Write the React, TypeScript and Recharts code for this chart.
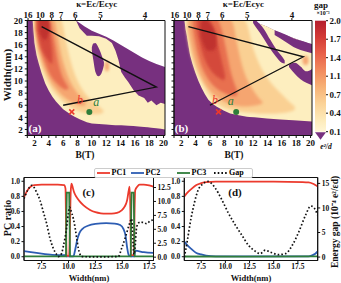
import React from 'react';
import { ComposedChart, BarChart, Bar, Area, Line, Scatter, XAxis, YAxis, ReferenceArea } from 'recharts';

const SERIF = '"Liberation Serif", "Times New Roman", serif';
const INK = '#111';
const PURPLE = '#77307f';
const PALE = '#fdeebf';
const TONES = ['#fad093', '#f5a56f', '#e8704f', '#d4483a', '#c0302e'];
const RED = '#ec3a2d';
const BLUE = '#2d5db3';
const GREEN = '#2f7d3a';

// ---------- gap maps: B (T) across, width (nm) up ----------
const bTicks = [1, 2, 3, 4, 5, 6, 7, 8, 9, 10, 11, 12, 13, 14, 15, 16, 17, 18, 19, 20];
const wTicks = [1, 2, 3, 4, 5, 6, 7, 8, 9, 10, 11, 12, 13, 14, 15, 16, 17, 18, 19, 20];
const kappaLabels = ['16', '10', '8', '7', '6', '5', '4'];
const kappaAtB = [1.1, 2.8, 4.4, 5.7, 7.7, 11.2, 17.4];

const gapTicks = [0.1, 0.417, 0.733, 1.05, 1.367, 1.683, 2.0];
const gapLabels = ['0.1', '0.4', '0.7', '1.1', '1.4', '1.7', '2.0'];

// panel (a): [B, W] top of computed region (white above)
const aEdge = [[1, 20.5], [7.6, 20.5], [7.9, 19.9], [9, 19.0], [10, 18.3], [11, 17.8], [12, 17.3], [13, 16.7], [14, 16.0], [15, 15.3], [16, 14.6], [17, 13.9], [18, 13.3], [19, 12.8], [20.2, 12.3]];
// [B, W low, W high]
const aBand = [
  [1.75, 20, 20.5], [1.85, 18.5, 20.5], [2.0, 16.3, 20.5], [2.3, 14.2, 20.5], [2.6, 12.9, 20.5],
  [3.0, 11.3, 20.5], [3.5, 9.6, 20.5], [4.0, 8.4, 20.5], [4.5, 7.4, 20.5], [5.0, 6.6, 20.5],
  [6.0, 5.35, 20.5], [7.0, 4.5, 20.5], [7.6, 4.1, 20.5], [8.3, 3.7, 18.7], [9.3, 3.2, 17.5],
  [10.0, 3.0, 17.5], [11.0, 2.9, 17.4], [12.0, 2.8, 17.0], [12.8, 2.75, 16.3], [13.3, 2.7, 15.0],
  [13.7, 2.7, 13.5], [14.1, 2.7, 11.5], [14.6, 2.65, 10.6], [15.1, 2.6, 9.8], [15.8, 2.55, 8.5],
  [16.5, 2.5, 7.6], [17.3, 2.4, 7.2], [17.8, 2.35, 6.4], [18.3, 2.3, 6.8], [19.0, 2.2, 6.0],
  [19.6, 2.1, 6.4], [20.2, 2.0, 6.2],
];
const aHole = [[10.0, 15.0, 15.6], [10.2, 13.5, 16.2], [10.5, 11.5, 16.3], [10.9, 10.8, 15.6], [11.2, 11.0, 14.8], [11.5, 11.8, 13.8], [11.7, 12.6, 13.1]];
const aTone1 = [[2.0, 18.5, 20.5], [2.3, 15.6, 20.5], [2.7, 13.5, 20.5], [3.2, 11.6, 20.5], [3.7, 10.2, 20.5], [4.2, 9.1, 20.5], [4.8, 8.1, 20.5], [5.4, 7.3, 20.5], [5.9, 6.7, 19.5], [6.4, 6.2, 16.5], [7.0, 5.7, 13.5], [7.6, 5.3, 11.2], [8.2, 5.0, 9.6], [8.8, 4.8, 8.4], [9.4, 4.6, 7.5], [10.0, 4.5, 6.8], [10.6, 4.5, 6.2], [11.2, 4.6, 5.6], [11.6, 4.8, 5.2]];
const aTone2 = [[2.1, 18.5, 20.5], [2.4, 16.0, 20.5], [2.8, 14.2, 20.5], [3.3, 12.4, 20.5], [3.8, 11.0, 20.5], [4.3, 9.9, 20.5], [4.8, 9.0, 20.0], [5.3, 8.3, 17.0], [5.8, 7.7, 14.0], [6.3, 7.2, 12.0], [6.8, 6.8, 10.4], [7.4, 6.4, 9.0], [8.0, 6.1, 8.0], [8.6, 5.9, 7.2], [9.1, 5.9, 6.6]];
const aTone3 = [[2.2, 18.8, 20.5], [2.5, 16.8, 20.5], [2.9, 15.0, 20.5], [3.3, 13.5, 20.5], [3.8, 12.0, 20.5], [4.3, 10.8, 19.5], [4.8, 10.0, 16.5], [5.3, 9.4, 13.2], [5.8, 8.9, 11.0], [6.3, 8.6, 9.8], [6.7, 8.6, 9.0]];
const aTone4 = [[2.4, 18.5, 20.5], [2.8, 16.0, 20.5], [3.3, 14.5, 20.5], [3.8, 13.6, 20.0], [4.2, 13.0, 17.5], [4.5, 12.8, 14.5]];
const aTone5 = [[2.6, 18.5, 20.5], [3.0, 17.2, 20.5], [3.5, 16.8, 20.5], [3.9, 17.5, 20.2], [4.1, 18.5, 19.6]];
const aSpot = [[11.8, 12.0, 12.8], [12.1, 11.6, 13.3], [12.4, 12.0, 12.9]];
const aPath = [[3, 19], [19, 9], [6, 6]];

// panel (b)
const bEdge = [[1, 20.5], [11.5, 20.5], [12.2, 19.8], [13.9, 19.0], [15.8, 17.9], [17.6, 17.1], [20.2, 16.0]];
const bBand = [
  [2.45, 20, 20.5], [2.6, 18.6, 20.5], [2.77, 17.6, 20.5], [3.0, 15.9, 20.5], [3.23, 14.3, 20.5],
  [3.55, 12.9, 20.5], [3.93, 11.5, 20.5], [4.4, 10.0, 20.5], [4.86, 8.8, 20.5], [5.3, 7.8, 20.5],
  [5.78, 6.9, 20.5], [6.4, 6.2, 20.5], [6.96, 5.75, 20.5], [7.9, 5.15, 20.5], [8.81, 4.65, 20.5],
  [10.0, 4.35, 20.5], [11.14, 4.1, 20.5], [11.5, 4.05, 20.5], [12.2, 4.0, 19.8], [13.93, 3.8, 19.0],
  [15.8, 3.65, 17.9], [17.6, 3.5, 17.1], [20.2, 3.3, 16.0],
];
const bHole1 = [[12.0, 19.6, 20.5], [12.5, 18.7, 19.9], [13.5, 17.0, 18.6], [14.4, 15.3, 16.8], [15.2, 14.0, 15.3], [16.0, 13.0, 14.1], [16.4, 12.9, 13.4]];
const bHole2 = [[15.0, 17.6, 18.4], [16.5, 16.5, 17.7], [18.0, 15.4, 16.9], [19.2, 14.9, 16.5], [20.2, 14.6, 16.1]];
const bHole3 = [[17.0, 12.3, 12.7], [17.8, 11.2, 13.0], [18.6, 10.3, 12.4], [19.4, 9.7, 11.6], [20.2, 9.3, 12.0]];
const bTone1 = [[2.7, 18.5, 20.5], [3.0, 16.3, 20.5], [3.5, 13.8, 20.5], [4.0, 12.0, 20.5], [5.0, 9.5, 20.5], [6.0, 7.5, 20.5], [7.0, 6.3, 20.5], [8.0, 5.6, 20.5], [9.0, 5.2, 20.5], [10.0, 5.0, 20.5], [11.0, 4.8, 19.8], [12.0, 4.7, 15.5], [13.0, 4.6, 12.5], [14.0, 4.6, 10.5], [15.0, 4.6, 9.0], [16.0, 4.7, 7.8], [17.0, 4.9, 6.6], [17.8, 5.2, 5.8]];
const bTone2 = [[3.0, 18.5, 20.5], [3.4, 16.0, 20.5], [3.9, 13.5, 20.5], [4.5, 11.5, 20.5], [5.5, 9.2, 20.5], [6.5, 7.8, 20.5], [7.5, 6.9, 20.5], [8.5, 6.3, 20.5], [9.2, 6.0, 19.5], [9.8, 5.9, 16.0], [10.5, 5.8, 12.5], [11.2, 5.8, 10.2], [12.0, 5.9, 8.5], [12.8, 6.1, 7.2], [13.3, 6.3, 6.6]];
const bTone3 = [[3.6, 18.8, 20.5], [4.0, 16.0, 20.5], [4.6, 13.2, 20.5], [5.3, 11.2, 20.5], [6.0, 9.9, 20.5], [6.8, 8.9, 20.5], [7.5, 8.3, 19.0], [8.2, 7.9, 15.5], [8.8, 7.6, 12.0], [9.4, 7.5, 9.6], [9.8, 7.6, 8.4]];
const bTone4 = [[4.2, 18.5, 20.5], [4.7, 15.8, 20.5], [5.3, 13.5, 20.5], [6.0, 12.0, 20.0], [6.7, 11.0, 18.0], [7.3, 10.5, 15.0], [7.8, 10.2, 12.5], [8.1, 10.3, 11.0]];
const bTone5 = [[4.7, 17.5, 19.5], [5.2, 15.8, 20.2], [5.8, 15.0, 19.8], [6.4, 15.0, 18.8], [6.9, 15.8, 17.5]];
const bSpot = [[18.9, 13.0, 13.8], [19.3, 12.6, 14.2], [19.7, 13.0, 13.8]];
const bPath = [[3, 19], [19, 14], [6, 6]];

const markCross = [7.2, 4.9];
const markDot = [9.65, 4.9];
const aLetters = { b: [8.35, 6.9], a: [10.6, 6.6] };
const bLetters = { b: [6.7, 6.9], a: [8.9, 6.7] };

// ---------- PC ratio / gap vs width ----------
const seriesNames = ['PC1', 'PC2', 'PC3', 'Gap'];
const cWidthTicks = [7.5, 10, 12.5, 15, 17.5];
const ratioTicks = [0, 0.2, 0.4, 0.6, 0.8, 1.0];
const cGapTicks = [0, 2.5, 5, 7.5, 10, 12.5];
const dGapTicks = [0, 5, 10, 15];

const cPC1 = [[5.86, 0.79], [6.1, 0.86], [6.4, 0.92], [6.8, 0.95], [7.5, 0.955], [9.0, 0.955], [9.6, 0.95], [9.72, 0.9], [9.78, 0.3], [9.82, 0.02], [10.05, 0.01], [10.12, 0.3], [10.2, 0.85], [10.27, 0.97], [10.35, 0.94], [10.5, 0.86], [10.75, 0.79], [11.0, 0.74], [11.4, 0.68], [12.0, 0.62], [12.5, 0.59], [13.0, 0.575], [13.5, 0.57], [14.0, 0.57], [14.5, 0.58], [14.9, 0.61], [15.2, 0.66], [15.45, 0.75], [15.6, 0.88], [15.68, 0.93], [15.75, 0.6], [15.8, 0.02], [16.08, 0.02], [16.14, 0.6], [16.2, 0.88], [16.4, 0.93], [16.6, 0.955], [17.0, 0.955], [17.5, 0.945], [17.9, 0.93]];
const cPC2 = [[5.86, 0.075], [6.5, 0.06], [7.5, 0.04], [8.5, 0.025], [9.5, 0.02], [9.78, 0.02], [9.82, 0.005], [10.45, 0.005], [10.6, 0.08], [10.8, 0.22], [11.0, 0.31], [11.3, 0.37], [11.8, 0.41], [12.5, 0.435], [13.5, 0.445], [14.3, 0.44], [14.8, 0.42], [15.1, 0.37], [15.3, 0.28], [15.45, 0.12], [15.6, 0.02], [15.8, 0.005], [16.1, 0.005], [16.2, 0.08], [17.0, 0.06], [17.9, 0.05]];
const cPC3 = [[5.86, 0.005], [9.76, 0.005], [9.8, 0.5], [9.84, 0.85], [10.06, 0.85], [10.1, 0.45], [10.14, 0.005], [15.78, 0.005], [15.82, 0.5], [15.86, 0.85], [16.06, 0.85], [16.1, 0.45], [16.14, 0.005], [17.9, 0.005]];
const cGap = [[5.86, 10.5], [6.2, 12.0], [6.57, 12.9], [6.8, 12.5], [7.04, 11.6], [7.35, 10.2], [7.66, 8.1], [7.97, 6.0], [8.27, 3.4], [8.58, 1.6], [8.89, 0.5], [9.05, 0.1], [9.36, 0.7], [9.52, 2.0], [9.67, 3.4], [9.83, 5.4], [9.98, 7.8], [10.1, 9.0], [10.2, 8.5], [10.45, 6.9], [10.6, 5.4], [10.76, 3.4], [10.91, 1.6], [11.07, 0.5], [11.22, 0.1], [12.5, 0.05], [14.63, 0.1], [14.94, 1.6], [15.26, 3.4], [15.57, 5.4], [15.72, 6.3], [15.87, 6.9], [16.0, 2.5], [16.08, 0.5], [16.18, 1.6], [16.34, 5.5], [16.65, 6.3], [16.96, 6.2], [17.27, 6.0], [17.58, 6.5], [17.9, 6.7]];

const dPC1 = [[5.75, 0.8], [6.0, 0.84], [6.5, 0.9], [7.0, 0.95], [7.5, 0.975], [8.0, 0.99], [9.0, 0.995], [12.0, 0.995], [15.0, 0.995], [18.0, 0.99], [18.6, 0.985], [19.0, 0.97], [19.3, 0.95], [19.55, 0.93]];
const dPC2 = [[5.75, 0.2], [6.0, 0.16], [6.5, 0.1], [7.0, 0.05], [7.5, 0.03], [8.0, 0.015], [9.0, 0.005], [18.6, 0.005], [19.0, 0.02], [19.3, 0.04], [19.55, 0.07]];
const dPC3 = [[5.75, 0.003], [12.0, 0.002], [19.55, 0.004]];
const dGap = [[5.75, 0], [5.9, 1.5], [6.1, 3.8], [6.45, 7.9], [6.8, 11.1], [7.15, 13.5], [7.67, 14.9], [8.2, 15.4], [8.9, 14.2], [9.6, 11.8], [10.3, 9.0], [11.0, 6.6], [11.69, 4.5], [12.39, 2.4], [13.09, 1.2], [13.6, 0.7], [14.13, 1.4], [14.65, 1.0], [15.52, 0.5], [16.22, 0.7], [16.92, 2.4], [17.61, 5.2], [18.31, 8.6], [18.83, 10.4], [19.18, 10.0], [19.53, 8.6]];

const ranged = (t: number[][]) => t.map(([b, lo, hi]) => ({ b, r: [lo, hi] }));
const pts = (t: number[][]) => t.map(([b, w]) => ({ b, w }));
const xy = (t: number[][]) => t.map(([w, v]) => ({ w, v }));

const tickFont = { fontSize: 9, fontWeight: 700, fontFamily: SERIF, fill: INK };
const smallFont = { fontSize: 7.5, fontWeight: 700, fontFamily: SERIF, fill: INK };

function Label({ x, y, size, rot, color, italic, children }: any) {
  return (
    <div
      style={{
        position: 'absolute', left: x, top: y, fontSize: size, fontWeight: 700, fontFamily: SERIF,
        color: color || INK, fontStyle: italic ? 'italic' : 'normal', lineHeight: 1, whiteSpace: 'nowrap',
        transform: `translate(-50%, -50%)${rot ? ` rotate(${rot}deg)` : ''}`,
      }}
    >
      {children}
    </div>
  );
}

function HeatPanel(p: any) {
  const areaProps = { xAxisId: 'b', yAxisId: 'w', isAnimationActive: false, stroke: 'none', fillOpacity: 1, dot: false, activeDot: false };
  return (
    <div style={{ position: 'absolute', left: p.left, top: 0 }}>
      <ComposedChart width={p.width} height={160} margin={{ top: 0, right: 7, bottom: 0, left: 0 }}>
        <XAxis xAxisId="b" dataKey="b" type="number" domain={[1, 20.2]} allowDataOverflow ticks={bTicks} interval={0}
          tickFormatter={(v: number) => (v % 2 === 0 ? String(v) : '')} height={24.5} tickSize={2.5} tick={tickFont}
          axisLine={{ stroke: INK }} tickLine={{ stroke: INK }} />
        <XAxis xAxisId="k" dataKey="b" orientation="top" type="number" domain={[1, 20.2]} allowDataOverflow ticks={kappaAtB} interval={0}
          tickFormatter={(v: number) => kappaLabels[kappaAtB.indexOf(v)]} height={20.5} tickSize={2.5} tickMargin={0.5} tick={tickFont}
          axisLine={{ stroke: INK }} tickLine={{ stroke: INK }} />
        <YAxis yAxisId="w" type="number" domain={[1, 20]} allowDataOverflow ticks={wTicks} interval={0}
          tickFormatter={(v: number) => (p.showW && v % 2 === 0 ? String(v) : '')} width={p.axisW} tickSize={2.5} tick={tickFont}
          axisLine={{ stroke: INK }} tickLine={{ stroke: INK }} />
        <Area {...areaProps} data={pts(p.edge)} dataKey="w" type="linear" fill={PURPLE} />
        <Area {...areaProps} data={ranged(p.band)} dataKey="r" type="linear" fill={PALE} />
        {p.holes.map((h: number[][], i: number) => (
          <Area key={`h${i}`} {...areaProps} data={ranged(h)} dataKey="r" type="monotone" fill={PURPLE} />
        ))}
        {p.tones.map((t: number[][], i: number) => (
          <Area key={`t${i}`} {...areaProps} className="soft" data={ranged(t)} dataKey="r" type="monotone" fill={TONES[i]} />
        ))}
        <Area {...areaProps} className="soft" data={ranged(p.spot)} dataKey="r" type="monotone" fill={TONES[1]} />
        {/* binds the top kappa axis so its ticks are drawn */}
        <Scatter xAxisId="k" yAxisId="w" data={pts(p.path)} dataKey="w" isAnimationActive={false} shape={() => <g />} />
        <Scatter xAxisId="b" yAxisId="w" data={pts(p.path)} dataKey="w" isAnimationActive={false}
          line={{ stroke: INK, strokeWidth: 1.3 }} shape={() => <g />} />
        <Scatter xAxisId="b" yAxisId="w" data={pts([markCross])} dataKey="w" isAnimationActive={false}
          shape={(s: any) => (
            <g stroke={RED} strokeWidth={1.6}>
              <line x1={s.cx - 2.5} y1={s.cy - 2.5} x2={s.cx + 2.5} y2={s.cy + 2.5} />
              <line x1={s.cx - 2.5} y1={s.cy + 2.5} x2={s.cx + 2.5} y2={s.cy - 2.5} />
            </g>
          )} />
        <Scatter xAxisId="b" yAxisId="w" data={pts([markDot])} dataKey="w" isAnimationActive={false}
          shape={(s: any) => <circle cx={s.cx} cy={s.cy} r={3} fill={GREEN} />} />
        <Scatter xAxisId="b" yAxisId="w" data={pts([p.letters.b])} dataKey="w" isAnimationActive={false}
          shape={(s: any) => <text x={s.cx} y={s.cy + 4} textAnchor="middle" fontSize={12} fontStyle="italic" fontFamily={SERIF} fill={RED}>b</text>} />
        <Scatter xAxisId="b" yAxisId="w" data={pts([p.letters.a])} dataKey="w" isAnimationActive={false}
          shape={(s: any) => <text x={s.cx} y={s.cy + 4} textAnchor="middle" fontSize={12} fontStyle="italic" fontFamily={SERIF} fill={GREEN}>a</text>} />
        <ReferenceArea xAxisId="b" yAxisId="w" x1={1} x2={20.2} y1={1} y2={20} fill="none" stroke={INK} strokeWidth={1} />
      </ComposedChart>
    </div>
  );
}

function ColorBar() {
  return (
    <div style={{ position: 'absolute', left: 300, top: 0 }}>
      <BarChart width={41} height={160} data={[{ k: 'gap', v: [0.1, 2.0] }]} barCategoryGap={0}
        margin={{ top: 20.7, right: 0, bottom: 28.3, left: 15 }}>
        <XAxis dataKey="k" hide />
        <YAxis orientation="right" type="number" domain={[0.1, 2.0]} ticks={gapTicks} interval={0}
          tickFormatter={(v: number) => gapLabels[gapTicks.indexOf(v)]} width={15} tickSize={2} tickMargin={1.5}
          axisLine={false} tickLine={{ stroke: INK }} tick={tickFont} />
        <Bar dataKey="v" isAnimationActive={false}
          shape={(s: any) => (
            <g>
              <rect x={s.x} y={s.y} width={s.width} height={s.height} fill="url(#cbGrad)" />
              <polygon points={`${s.x},${s.y + s.height + 0.5} ${s.x + s.width},${s.y + s.height + 0.5} ${s.x + s.width / 2},${s.y + s.height + 8}`} fill={PURPLE} />
            </g>
          )} />
      </BarChart>
    </div>
  );
}

function WidthPanel(p: any) {
  const line = { isAnimationActive: false, dot: false, activeDot: false, type: 'monotone' as const };
  return (
    <div style={{ position: 'absolute', left: p.left, top: 160 }}>
      <ComposedChart width={p.width} height={123} margin={{ top: 17.5, right: 0, bottom: 0, left: 0 }}>
        <XAxis dataKey="w" type="number" domain={p.domain} allowDataOverflow ticks={cWidthTicks} interval={0}
          tickFormatter={(v: number) => v.toFixed(1)} height={22.5} tickSize={2.5} tickMargin={0.5} tick={smallFont}
          axisLine={{ stroke: INK }} tickLine={{ stroke: INK }} />
        <YAxis yAxisId="l" type="number" domain={[-0.05, 1.05]} allowDataOverflow ticks={ratioTicks} interval={0}
          tickFormatter={(v: number) => v.toFixed(1)} width={p.leftW} tickSize={2.5} tickMargin={1.5} tick={smallFont}
          axisLine={{ stroke: INK }} tickLine={{ stroke: INK }} />
        <YAxis yAxisId="g" orientation="right" type="number" domain={p.gapDomain} allowDataOverflow ticks={p.gapTicks} interval={0}
          tickFormatter={p.gapFmt} width={p.rightW} tickSize={2.5} tickMargin={1.5} tick={smallFont}
          axisLine={{ stroke: INK }} tickLine={{ stroke: INK }} />
        <Line {...line} yAxisId="l" data={xy(p.pc2)} dataKey="v" stroke={BLUE} strokeWidth={1.8} />
        <Line {...line} yAxisId="l" data={xy(p.pc1)} dataKey="v" stroke={RED} strokeWidth={1.8} />
        <Line {...line} yAxisId="l" data={xy(p.pc3)} dataKey="v" stroke={GREEN} strokeWidth={1.8} type="linear" />
        <Line {...line} yAxisId="g" data={xy(p.gap)} dataKey="v" stroke={INK} strokeWidth={1.7} strokeDasharray="1.6 2.1" />
        <ReferenceArea yAxisId="l" x1={p.domain[0]} x2={p.domain[1]} y1={-0.05} y2={1.05} fill="none" stroke={INK} strokeWidth={1} />
      </ComposedChart>
    </div>
  );
}

const legendColors = [RED, BLUE, GREEN, INK];
const legendX = [96.5, 130.5, 176.5, 214];

export default function App() {
  return (
    <div style={{ position: 'absolute', left: 0, top: 0, width: 341, height: 283, background: '#fff', overflow: 'hidden' }}>
      <style>{'.soft .recharts-area-area{filter:url(#soft)}'}</style>
      <svg width={0} height={0} style={{ position: 'absolute' }}>
        <defs>
          <filter id="soft" x="-30%" y="-30%" width="160%" height="160%">
            <feGaussianBlur stdDeviation="1.8" />
          </filter>
          <linearGradient id="cbGrad" x1="0" y1="0" x2="0" y2="1">
            <stop offset="0%" stopColor="#b51f2e" />
            <stop offset="15%" stopColor="#d33b36" />
            <stop offset="30%" stopColor="#e8614a" />
            <stop offset="45%" stopColor="#f28b5e" />
            <stop offset="60%" stopColor="#f7b277" />
            <stop offset="75%" stopColor="#fbd398" />
            <stop offset="90%" stopColor="#fdebbb" />
            <stop offset="100%" stopColor="#fff6d5" />
          </linearGradient>
        </defs>
      </svg>

      <HeatPanel left={0} width={172} axisW={27.3} showW edge={aEdge} band={aBand} holes={[aHole]}
        tones={[aTone1, aTone2, aTone3, aTone4, aTone5]} spot={aSpot} path={aPath} letters={aLetters} />
      <HeatPanel left={150} width={169} axisW={24} showW={false} edge={bEdge} band={bBand} holes={[bHole1, bHole2, bHole3]}
        tones={[bTone1, bTone2, bTone3, bTone4, bTone5]} spot={bSpot} path={bPath} letters={bLetters} />
      <ColorBar />

      <WidthPanel left={0} width={175} domain={[5.86, 17.9]} leftW={24} rightW={21.5} gapDomain={[-0.6, 14.3]}
        gapTicks={cGapTicks} gapFmt={(v: number) => v.toFixed(1)} pc1={cPC1} pc2={cPC2} pc3={cPC3} gap={cGap} />
      <WidthPanel left={169} width={172} domain={[5.75, 19.55]} leftW={15.3} rightW={23.3} gapDomain={[-0.7, 16.2]}
        gapTicks={dGapTicks} gapFmt={(v: number) => String(v)} pc1={dPC1} pc2={dPC2} pc3={dPC3} gap={dGap} />

      <Label x={96.7} y={4.3} size={9}>κ=Ec/Ecyc</Label>
      <Label x={243.4} y={4.3} size={9}>κ=Ec/Ecyc</Label>
      <Label x={321} y={4.5} size={9}>gap</Label>
      <Label x={323} y={13} size={6}>×10⁻³</Label>
      <Label x={7} y={75} size={11} rot={-90}>Width(nm)</Label>
      <Label x={85} y={155.5} size={9.5}>B(T)</Label>
      <Label x={234} y={155.5} size={9.5}>B(T)</Label>
      <Label x={326} y={147} size={7.5} italic>e²/d</Label>
      <Label x={35} y={128} size={11} color="#fff">(a)</Label>
      <Label x={181.5} y={128} size={11} color="#fff">(b)</Label>

      <div style={{ position: 'absolute', left: 94, top: 168, width: 159, height: 10, border: '1px solid #ccc', borderRadius: 2, background: '#fff', boxSizing: 'border-box' }} />
      {seriesNames.map((n, i) => (
        <div key={n} style={{ position: 'absolute', left: legendX[i], top: 168, height: 10, display: 'flex', alignItems: 'center' }}>
          <svg width={13} height={10}>
            <line x1={0} y1={5} x2={13} y2={5} stroke={legendColors[i]} strokeWidth={1.8} strokeDasharray={n === 'Gap' ? '1.6 2.1' : undefined} />
          </svg>
          <span style={{ marginLeft: 2, fontSize: 8, fontWeight: 700, fontFamily: SERIF, lineHeight: 1 }}>{n}</span>
        </div>
      ))}

      <Label x={88.5} y={192} size={11}>(c)</Label>
      <Label x={235} y={192} size={11}>(d)</Label>
      <Label x={8} y={218} size={10} rot={-90}>PC ratio</Label>
      <Label x={89} y={277.5} size={8.5}>Width(nm)</Label>
      <Label x={251} y={277.5} size={8.5}>Width(nm)</Label>
      <Label x={335.5} y={222} size={9.5} rot={-90}>Energy gap (10⁻⁴ e²/εd)</Label>
    </div>
  );
}
